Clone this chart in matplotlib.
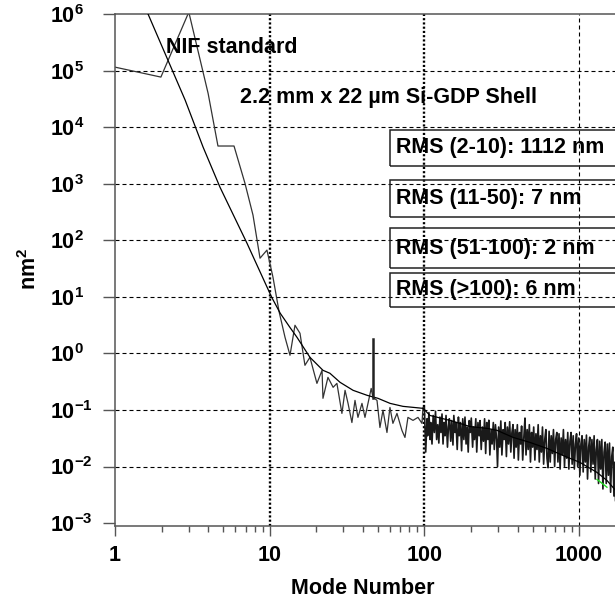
import numpy as np
import matplotlib
matplotlib.use('Agg')
import matplotlib.pyplot as plt
from matplotlib.patches import Rectangle

plt.rcParams['font.family'] = ['Liberation Sans', 'DejaVu Sans']
plt.rcParams['mathtext.fontset'] = 'custom'
plt.rcParams['mathtext.bf'] = 'Liberation Sans:bold'
plt.rcParams['mathtext.rm'] = 'Liberation Sans:bold'

# NIF standard curve
nif_mode = [1.5, 1.635, 2.84, 3.71, 4.77, 7.13, 10.3, 11.7, 13.5, 15.0, 18.2, 22.1, 24.5,
            28.5, 34.6, 42.6, 50.1, 60, 72.7, 98, 108.7, 146, 197, 258, 295, 374, 481,
            620, 787, 1014, 1306, 1514, 1657, 1720]
nif_val = [1.8e6, 1.02e6, 3.06e4, 4.5e3, 879, 89.6, 9.9, 5.15, 2.91, 1.94, 0.857, 0.504, 0.447,
           0.309, 0.223, 0.182, 0.161, 0.131, 0.116, 0.107, 0.080, 0.0655, 0.051, 0.047,
           0.0436, 0.0328, 0.0267, 0.0209, 0.0157, 0.0118, 0.00786, 0.00567, 0.00426, 0.0038]

# measured Si-GDP shell spectrum, low modes
shell_mode = [1.0, 1.98, 3.0, 4.0, 4.63, 5.88, 6.92, 7.8, 8.66, 9.6, 10.5, 11.5,
              12.56, 13.53, 14.57, 15.7, 16.9, 18.2, 20.2, 21.8, 22.1, 23.8, 25.7, 27.2,
              29.3, 30.7, 32.1, 34.0, 35.6, 37.2, 39.5, 41.3, 43.2, 45.3, 46.5, 49.4,
              51.6, 54.0, 57.3, 59.9, 62.6, 66.5, 71.6, 74.9, 78.3, 84.4, 90.9, 96.5, 97.9]
shell_val = [1.17e5, 7.8e4, 1.1e6, 4.0e4, 4.7e3, 4.7e3, 1.03e3, 281, 48.6, 67.6, 22.4, 5.5,
             1.94, 0.93, 3.16, 2.28, 0.618, 0.857, 0.296, 0.504, 0.161, 0.378, 0.252, 0.296,
             0.087, 0.223, 0.131, 0.060, 0.148, 0.074, 0.131, 0.074, 0.131, 0.241, 0.168, 0.148,
             0.049, 0.099, 0.040, 0.111, 0.058, 0.087, 0.0435, 0.0327, 0.074, 0.0655, 0.074,
             0.058, 0.111]

shell_high = [
    (100, 0.11), (102, 0.018), (104, 0.07), (105, 0.035), (107, 0.09), (109, 0.03),
    (110, 0.06), (112, 0.025), (114, 0.08), (116, 0.04), (118, 0.095), (120, 0.03),
    (122, 0.055), (124, 0.026), (126, 0.075), (128, 0.04), (130, 0.085), (132, 0.025),
    (134, 0.06), (136, 0.035), (138, 0.08), (141, 0.022), (143, 0.05), (145, 0.07),
    (148, 0.028), (150, 0.065), (153, 0.024), (155, 0.08), (158, 0.04), (160, 0.06),
    (163, 0.02), (166, 0.075), (168, 0.035), (171, 0.06), (174, 0.019), (177, 0.07),
    (180, 0.03), (183, 0.075), (186, 0.025), (189, 0.05), (192, 0.018), (195, 0.065),
    (198, 0.04), (201, 0.072), (205, 0.022), (208, 0.05), (211, 0.03), (215, 0.07),
    (218, 0.018), (222, 0.06), (226, 0.035), (229, 0.065), (233, 0.02), (237, 0.05),
    (241, 0.028), (245, 0.07), (249, 0.017), (253, 0.06), (257, 0.03), (261, 0.066),
    (265, 0.016), (270, 0.045), (274, 0.025), (279, 0.06), (283, 0.02), (288, 0.055),
    (293, 0.03), (297, 0.0099), (302, 0.05), (307, 0.022), (312, 0.064), (317, 0.016),
    (323, 0.045), (328, 0.03), (333, 0.06), (339, 0.015), (344, 0.05), (350, 0.025),
    (356, 0.062), (362, 0.018), (368, 0.04), (374, 0.055), (380, 0.014), (386, 0.045),
    (392, 0.022), (399, 0.055), (405, 0.013), (412, 0.04), (419, 0.025), (425, 0.052),
    (432, 0.013), (440, 0.035), (447, 0.072), (454, 0.016), (462, 0.045), (469, 0.02),
    (477, 0.055), (485, 0.012), (493, 0.04), (501, 0.022), (509, 0.05), (518, 0.013),
    (526, 0.038), (535, 0.02), (544, 0.055), (553, 0.012), (562, 0.035), (571, 0.018),
    (580, 0.05), (590, 0.011), (600, 0.03), (610, 0.045), (620, 0.014), (630, 0.0095),
    (640, 0.042), (651, 0.012), (661, 0.035), (672, 0.017), (683, 0.045), (695, 0.01),
    (706, 0.03), (718, 0.04), (730, 0.012), (742, 0.038), (754, 0.009), (766, 0.032),
    (779, 0.016), (792, 0.045), (805, 0.01), (818, 0.03), (832, 0.014), (845, 0.04),
    (859, 0.009), (873, 0.028), (888, 0.04), (902, 0.011), (917, 0.035), (932, 0.009),
    (948, 0.025), (963, 0.038), (979, 0.01), (995, 0.032), (1012, 0.007), (1028, 0.025),
    (1045, 0.035), (1063, 0.008), (1080, 0.03), (1098, 0.012), (1116, 0.036), (1134, 0.006),
    (1153, 0.022), (1172, 0.033), (1191, 0.008), (1211, 0.03), (1231, 0.011), (1251, 0.035),
    (1272, 0.006), (1293, 0.02), (1314, 0.03), (1336, 0.005), (1358, 0.028), (1380, 0.009),
    (1403, 0.03), (1426, 0.004), (1450, 0.018), (1474, 0.027), (1498, 0.005), (1523, 0.025),
    (1548, 0.007), (1573, 0.026), (1599, 0.0035), (1626, 0.015), (1652, 0.022), (1680, 0.003),
    (1707, 0.012), (1720, 0.0025),
]
high_mode = [m for m, v in shell_high]
high_val = [v for m, v in shell_high]

spike_mode = [46.5, 46.5]
spike_val = [0.16, 1.79]

green_mode = [1306, 1400, 1514]
green_val = [0.0059, 0.0051, 0.0043]

rms_labels = ['RMS (2-10): 1112 nm', 'RMS (11-50): 7 nm',
              'RMS (51-100): 2 nm', 'RMS (>100): 6 nm']
y_decades = [-3, -2, -1, 0, 1, 2, 3, 4, 5, 6]
x_major = [1, 10, 100, 1000]

W, H = 615, 601
fig = plt.figure(figsize=(W / 100, H / 100), dpi=100)
ax = fig.add_axes([115 / W, 1 - 526 / H, 1 - 115 / W, (526 - 14) / H])
ax.set_xscale('log')
ax.set_yscale('log')
ax.set_xlim(1, 1707)
ax.set_ylim(8.85e-4, 1.02e6)

# grid
for d in y_decades[1:-1]:
    ax.axhline(10.0 ** d, color='black', lw=0.8, dashes=(3.6, 2.7), zorder=1)
for xv in [10, 100]:
    ax.axvline(xv, color='black', lw=1.7, dashes=(0.9, 0.9), zorder=1)
ax.axvline(1000, color='black', lw=0.8, dashes=(3.6, 2.7), zorder=1)

ax.plot(nif_mode, nif_val, color='black', lw=0.9, zorder=3)
ax.plot(shell_mode + high_mode[:1], shell_val + high_val[:1], color='#333333', lw=0.9, zorder=2)
ax.plot(high_mode, high_val, color='#1a1a1a', lw=1.2, zorder=2)
ax.plot(spike_mode, spike_val, color='#222222', lw=1.8, zorder=3)
ax.plot(green_mode, green_val, color='#22dd22', lw=1.0, zorder=2.5)

# spines and ticks
for s in ['left', 'bottom', 'top']:
    ax.spines[s].set_color('#555555')
    ax.spines[s].set_linewidth(1.1)
ax.spines['right'].set_visible(False)

ax.set_yticks([10.0 ** d for d in y_decades])
ax.set_yticklabels([r'$\mathbf{10^{%d}}$' % d for d in y_decades])
ax.set_xticks(x_major)
ax.set_xticklabels([str(v) for v in x_major])
ax.tick_params(axis='y', which='major', length=8.6, width=1, color='#555555',
               pad=38, labelsize=15.5)
ax.tick_params(axis='y', which='minor', length=3.6, width=1, color='#555555')
ax.tick_params(axis='x', which='major', length=7, width=1, color='#555555',
               pad=7, labelsize=15.5)
ax.tick_params(axis='x', which='minor', length=4.3, width=1, color='#555555')
for lbl in ax.get_yticklabels():
    lbl.set_ha('left')
for lbl in ax.get_xticklabels():
    lbl.set_fontweight('bold')


def px(x, y):
    return x / W, 1 - y / H


lab = dict(fontfamily='Liberation Sans', fontweight='bold', fontsize=15.5, color='black')
fig.text(*px(363, 588), 'Mode Number', ha='center', va='center', **lab)
fig.text(*px(30, 269), r'nm$^{\mathbf{2}}$', ha='center', va='center', rotation=90, **lab)
fig.text(*px(166, 53), 'NIF standard', ha='left', va='baseline', **lab)
fig.text(*px(240, 103), '2.2 mm x 22 µm Si-GDP Shell', ha='left', va='baseline', **lab)

boxes = [(130, 166), (180, 217), (228, 268), (273, 307)]
for (top, bot), txt in zip(boxes, rms_labels):
    x0, y0 = px(390, bot)
    fig.patches.append(Rectangle((x0, y0), 1 - x0 + 0.05, (bot - top) / H,
                                 transform=fig.transFigure, fill=False,
                                 edgecolor='#222222', lw=1.1))
    fig.text(*px(396, (top + bot) / 2), txt, ha='left', va='center', **lab)

fig.savefig('out.png', dpi=100)
